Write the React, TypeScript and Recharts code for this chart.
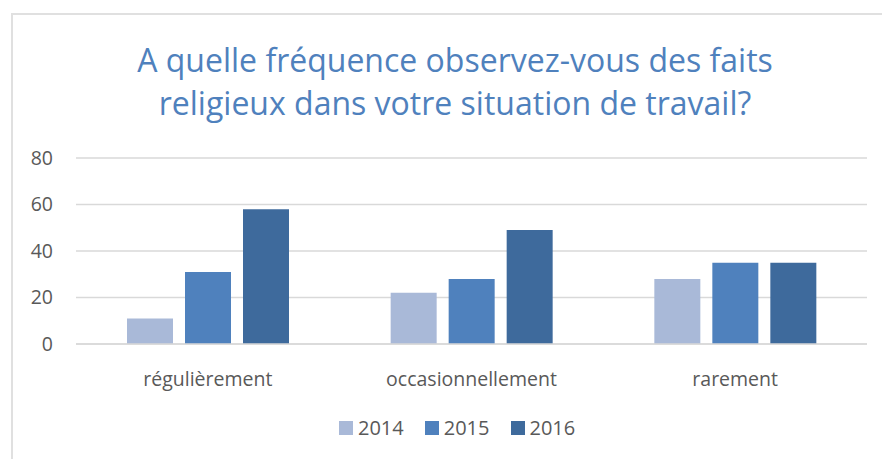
import React from "react"
import { Bar, BarChart, CartesianGrid, XAxis, YAxis } from "recharts"

const categories = ["régulièrement", "occasionnellement", "rarement"]
const values2014 = [11, 22, 28]
const values2015 = [31, 28, 35]
const values2016 = [58, 49, 35]
const yTicks = [0, 20, 40, 60, 80]

const series = [
  { key: "2014", color: "#A9B9D8" },
  { key: "2015", color: "#4F81BD" },
  { key: "2016", color: "#3E6A9C" },
]

const data = categories.map((name, i) => ({
  name,
  "2014": values2014[i],
  "2015": values2015[i],
  "2016": values2016[i],
}))

const font = "'Open Sans', sans-serif"

function ChartLegend() {
  return (
    <div
      style={{
        position: "absolute",
        left: 339,
        top: 414,
        display: "flex",
        gap: 21,
        fontFamily: font,
        fontSize: 20,
        lineHeight: "28px",
        color: "#595959",
      }}
    >
      {series.map((s) => (
        <div key={s.key} style={{ display: "flex", alignItems: "center" }}>
          <span style={{ width: 14, height: 14, background: s.color, display: "inline-block", marginRight: 5 }} />
          <span>{s.key}</span>
        </div>
      ))}
    </div>
  )
}

export default function App() {
  return (
    <div style={{ position: "absolute", left: 0, top: 0, width: 882, height: 459, overflow: "hidden", background: "#fff" }}>
      <div
        style={{
          position: "absolute",
          left: 11,
          top: 13,
          width: 900,
          height: 500,
          border: "2px solid #e0e0e0",
        }}
      />
      <div
        style={{
          position: "absolute",
          left: 0,
          top: 38,
          width: 910,
          textAlign: "center",
          fontFamily: font,
          fontSize: 32,
          lineHeight: "43px",
          color: "#4F81BD",
        }}
      >
        A quelle fréquence observez-vous des faits
        <br />
        religieux dans votre situation de travail?
      </div>
      <div style={{ position: "absolute", left: 0, top: 0 }}>
        <BarChart
          width={882}
          height={459}
          data={data}
          margin={{ top: 158, right: 15, bottom: 65, left: 16 }}
          barGap={12}
          barSize={46}
        >
          <CartesianGrid vertical={false} stroke="#d9d9d9" strokeWidth={1.5} />
          <XAxis
            dataKey="name"
            axisLine={{ stroke: "#d9d9d9", strokeWidth: 1.5 }}
            tickLine={false}
            tickSize={0}
            tickMargin={28}
            height={50}
            tick={{ fill: "#595959", fontSize: 19.5, fontFamily: font }}
          />
          <YAxis
            domain={[0, 80]}
            ticks={yTicks}
            axisLine={false}
            tickLine={false}
            tickSize={0}
            tickMargin={23}
            width={60}
            tick={{ fill: "#595959", fontSize: 19.5, fontFamily: font }}
          />
          {series.map((s) => (
            <Bar key={s.key} dataKey={s.key} fill={s.color} isAnimationActive={false} />
          ))}
        </BarChart>
      </div>
      <ChartLegend />
    </div>
  )
}
